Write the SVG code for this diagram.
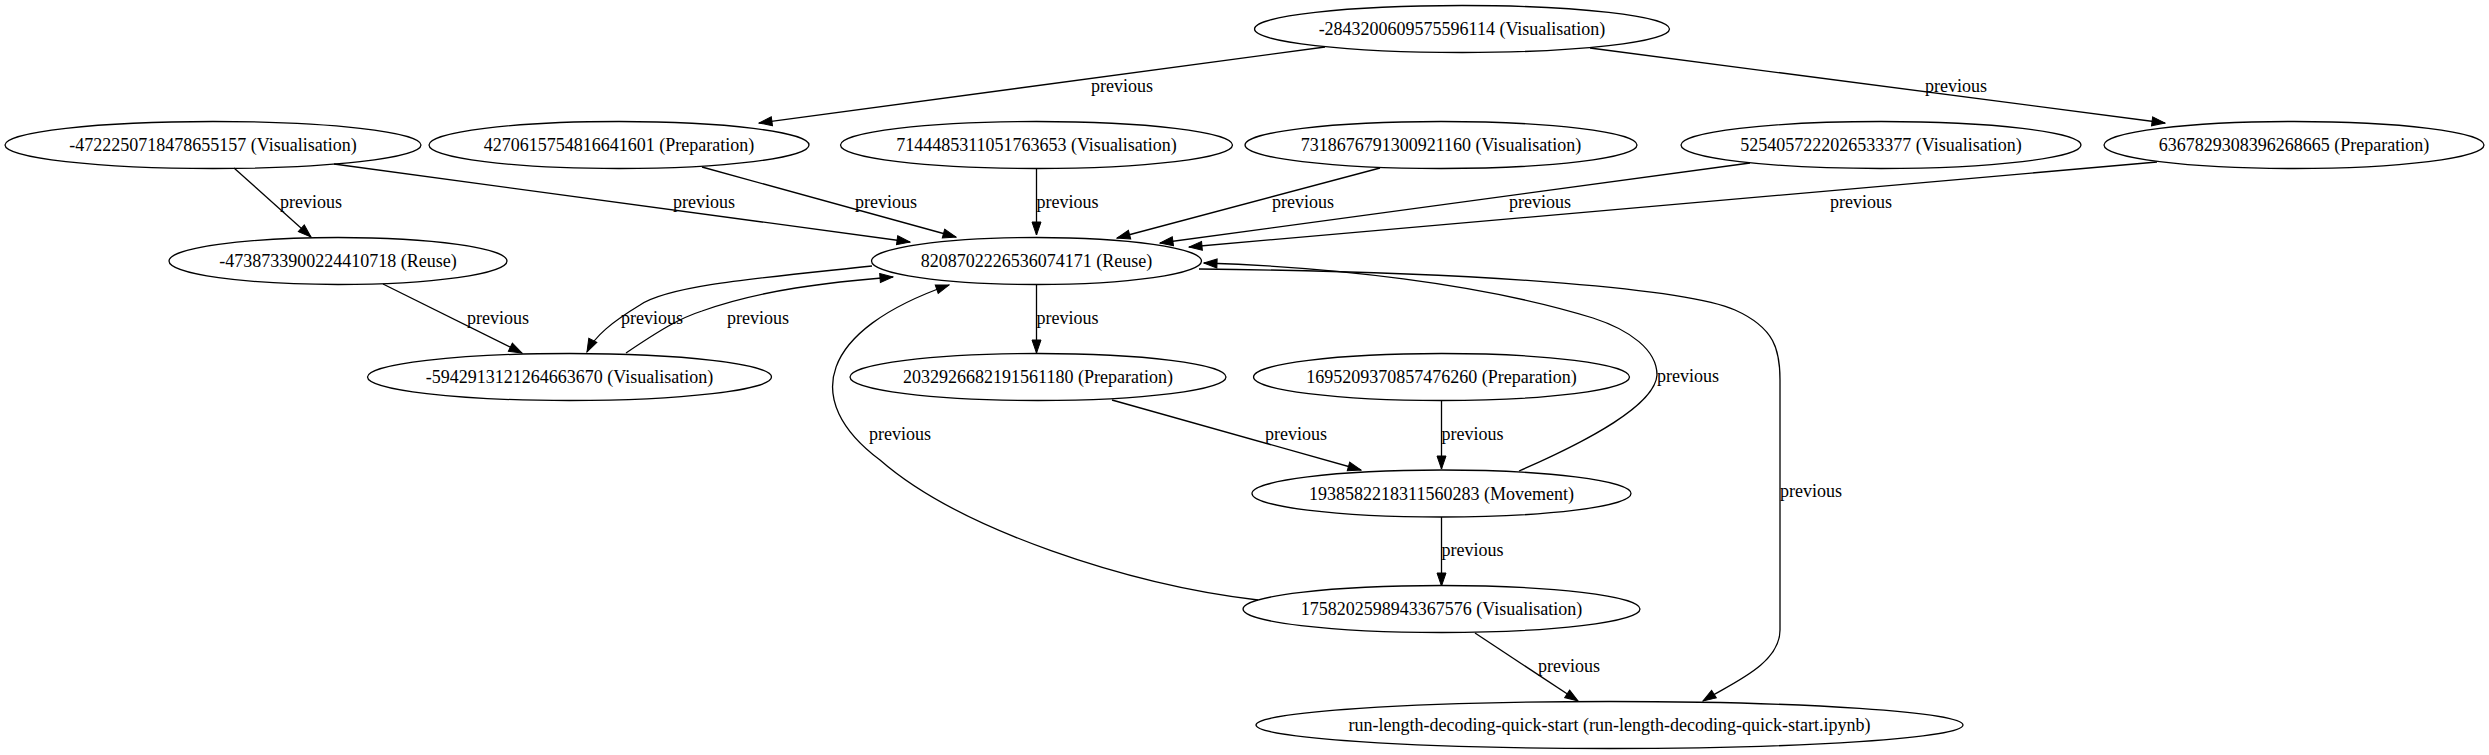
<svg xmlns="http://www.w3.org/2000/svg" width="2489" height="755" viewBox="0 0 2489 755">
<style>
.node ellipse{fill:none;stroke:#000;stroke-width:1.3}
.node text{font-family:"Liberation Serif","Times New Roman",serif;font-size:18px;text-anchor:middle;fill:#000}
.edges path{fill:none;stroke:#000;stroke-width:1.3;marker-end:url(#arr)}
.edges text{font-family:"Liberation Serif","Times New Roman",serif;font-size:18px;text-anchor:middle;fill:#000}
</style>
<defs>
<marker id="arr" viewBox="-1 -6 15 12" refX="13" refY="0" markerWidth="15" markerHeight="12" markerUnits="userSpaceOnUse" orient="auto"><path d="M0,-4.5L13,0L0,4.5z" fill="#000" stroke="#000" stroke-width="1"/></marker>
</defs>
<rect width="2489" height="755" fill="#fff"/>
<g id="edges" class="edges">
<path d="M1325,47 L759,123"/><text x="1122" y="92">previous</text>
<path d="M1590,48 L2165,123"/><text x="1956" y="92">previous</text>
<path d="M234,168 L311,237"/><text x="311" y="208">previous</text>
<path d="M334,164 L910,242"/><text x="704" y="208">previous</text>
<path d="M702,167 L956,237"/><text x="886" y="208">previous</text>
<path d="M1036.5,169 L1036.5,235"/><text x="1067.5" y="208">previous</text>
<path d="M1380,168 L1117,238"/><text x="1303" y="208">previous</text>
<path d="M1750,163 L1160,243"/><text x="1540" y="208">previous</text>
<path d="M2157,162 L1189,247"/><text x="1861" y="208">previous</text>
<path d="M383,284 L522,353"/><text x="498" y="324">previous</text>
<path d="M872,266 C760,278 670,285 640,305 C612,322 595,336 587,352"/><text x="652" y="324">previous</text>
<path d="M626,353 C660,330 680,318 702,311 C760,290 830,282 893,277"/><text x="758" y="324">previous</text>
<path d="M1036.5,285 L1036.5,353"/><text x="1067.5" y="324">previous</text>
<path d="M1112,400 L1361,470"/><text x="1296" y="440">previous</text>
<path d="M1441.5,401 L1441.5,469"/><text x="1472.5" y="440">previous</text>
<path d="M1519,471 C1590,440 1655,405 1657,375 C1657,350 1630,330 1593,318 C1480,283 1330,267 1204,263"/><text x="1688" y="382">previous</text>
<path d="M1441.5,517 L1441.5,586"/><text x="1472.5" y="556">previous</text>
<path d="M1258,600 C1130,585 960,530 880,460 C800,400 820,330 949,285"/><text x="900" y="440">previous</text>
<path d="M1475,633 L1578,701"/><text x="1569" y="672">previous</text>
<path d="M1199,269 C1500,272 1690,290 1735,310 C1775,328 1780,350 1780,380 L1780,630 C1780,665 1730,684 1703,701"/><text x="1811" y="497">previous</text>
</g>
<g id="nA" class="node"><ellipse cx="1462" cy="29" rx="207.5" ry="23.5"/><text x="1462" y="35">-2843200609575596114 (Visualisation)</text></g>
<g id="nB" class="node"><ellipse cx="213" cy="145" rx="208" ry="23.5"/><text x="213" y="151">-4722250718478655157 (Visualisation)</text></g>
<g id="nC" class="node"><ellipse cx="619" cy="145" rx="190" ry="23.5"/><text x="619" y="151">4270615754816641601 (Preparation)</text></g>
<g id="nD" class="node"><ellipse cx="1036.5" cy="145" rx="196" ry="23.5"/><text x="1036.5" y="151">7144485311051763653 (Visualisation)</text></g>
<g id="nE" class="node"><ellipse cx="1441" cy="145" rx="196" ry="23.5"/><text x="1441" y="151">7318676791300921160 (Visualisation)</text></g>
<g id="nF" class="node"><ellipse cx="1881" cy="145" rx="200" ry="23.5"/><text x="1881" y="151">5254057222026533377 (Visualisation)</text></g>
<g id="nG" class="node"><ellipse cx="2294" cy="145" rx="190" ry="23.5"/><text x="2294" y="151">6367829308396268665 (Preparation)</text></g>
<g id="nH" class="node"><ellipse cx="338" cy="261" rx="169" ry="23.5"/><text x="338" y="267">-4738733900224410718 (Reuse)</text></g>
<g id="nI" class="node"><ellipse cx="1036.5" cy="261" rx="165" ry="23.5"/><text x="1036.5" y="267">8208702226536074171 (Reuse)</text></g>
<g id="nJ" class="node"><ellipse cx="569.5" cy="377" rx="202" ry="23.5"/><text x="569.5" y="383">-5942913121264663670 (Visualisation)</text></g>
<g id="nK" class="node"><ellipse cx="1038" cy="377" rx="188" ry="23.5"/><text x="1038" y="383">2032926682191561180 (Preparation)</text></g>
<g id="nL" class="node"><ellipse cx="1441.5" cy="377" rx="188" ry="23.5"/><text x="1441.5" y="383">1695209370857476260 (Preparation)</text></g>
<g id="nM" class="node"><ellipse cx="1441.5" cy="493.5" rx="189.5" ry="23.5"/><text x="1441.5" y="499.5">1938582218311560283 (Movement)</text></g>
<g id="nN" class="node"><ellipse cx="1441.5" cy="609" rx="198.5" ry="23.5"/><text x="1441.5" y="615">1758202598943367576 (Visualisation)</text></g>
<g id="nO" class="node"><ellipse cx="1609.5" cy="725" rx="353.5" ry="23.5"/><text x="1609.5" y="731">run-length-decoding-quick-start (run-length-decoding-quick-start.ipynb)</text></g>
</svg>
